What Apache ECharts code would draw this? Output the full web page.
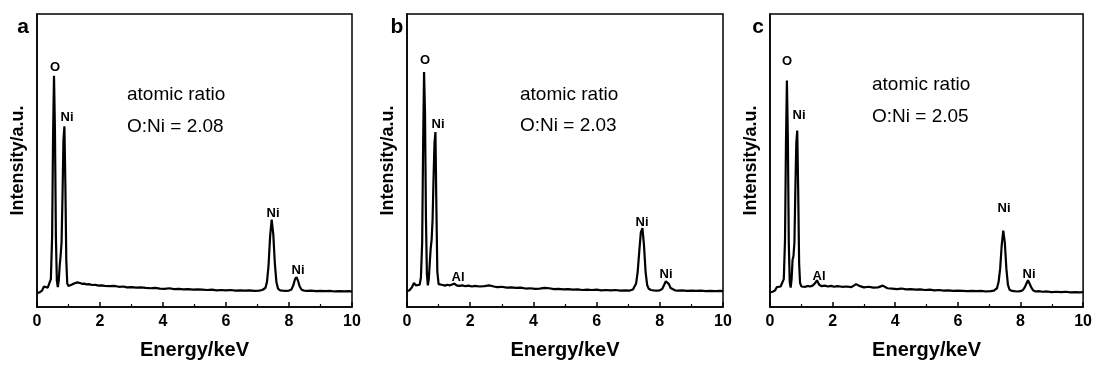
<!DOCTYPE html>
<html>
<head>
<meta charset="utf-8">
<title>EDS spectra</title>
<script src="https://cdn.jsdelivr.net/npm/echarts@6/dist/echarts.min.js"></script>
<style>
  html, body {margin: 0; padding: 0; background: #fff;}
  #main {width: 1095px; height: 365px;}
</style>
</head>
<body>
<div id="main"></div>
<script>
// energy grid, keV (finer around the peaks)
const energy = [
  0, 0.08, 0.16, 0.22, 0.28, 0.34, 0.4, 0.44, 0.48, 0.51,
  0.54, 0.57, 0.6, 0.63, 0.66, 0.69, 0.72, 0.75, 0.78, 0.81,
  0.84, 0.87, 0.9, 0.93, 0.96, 1.0, 1.06, 1.13, 1.2, 1.28,
  1.36, 1.43, 1.5, 1.57, 1.65, 1.75, 1.85, 1.95, 2.05, 2.15,
  2.3, 2.45, 2.6, 2.75, 2.85, 3.0, 3.15, 3.3, 3.45, 3.6,
  3.75, 3.9, 4.05, 4.2, 4.35, 4.5, 4.65, 4.8, 4.95, 5.1,
  5.25, 5.4, 5.55, 5.7, 5.85, 6.0, 6.15, 6.3, 6.45, 6.6,
  6.75, 6.9, 7.05, 7.15, 7.25, 7.3, 7.35, 7.4, 7.45, 7.5,
  7.55, 7.6, 7.65, 7.72, 7.8, 7.9, 8.0, 8.08, 8.14, 8.19,
  8.24, 8.29, 8.34, 8.4, 8.48, 8.58, 8.7, 8.85, 9.0, 9.15,
  9.3, 9.45, 9.6, 9.75, 9.9, 10.0,
]

// intensity (a.u.)
const specA = [
  4.8, 5.0, 5.6, 7.0, 7.6, 6.6, 7.0, 9.5, 24, 58,
  78.9, 60, 24, 9, 6.8, 9, 14, 17.5, 22, 38,
  57, 61.7, 42, 16, 8, 7.2, 7.4, 7.8, 8.1, 8.4,
  8.2, 7.9, 8.0, 7.7, 7.8, 7.5, 7.6, 7.3, 7.4, 7.2,
  7.1, 7.2, 6.9, 7.0, 6.7, 6.8, 6.6, 6.7, 6.5, 6.4,
  6.5, 6.3, 6.2, 6.4, 6.1, 6.2, 6.0, 6.1, 5.9, 6.0,
  5.9, 5.8, 5.9, 5.7, 5.8, 5.7, 5.8, 5.6, 5.7, 5.6,
  5.7, 5.5, 5.6, 5.8, 6.5, 8.5, 14, 24, 29.8, 25,
  15, 8.5, 6.3, 5.7, 5.6, 5.5, 5.6, 6.0, 7.5, 9.5,
  10.2, 8.8, 7.0, 5.9, 5.6, 5.5, 5.6, 5.4, 5.5, 5.4,
  5.5, 5.3, 5.4, 5.3, 5.4, 5.3,
]
const specB = [
  5.4, 5.7, 6.8, 8.2, 7.4, 6.9, 7.6, 10, 22, 55,
  80.2, 66, 30, 11, 7.4, 9.5, 15, 20, 23, 30,
  44, 56, 59.7, 34, 12, 7.8, 7.2, 7.5, 7.3, 7.6,
  7.4, 7.7, 8.0, 7.4, 7.2, 7.4, 7.1, 7.3, 7.0, 7.2,
  7.0, 7.1, 7.4, 7.0, 6.8, 6.9, 6.6, 6.7, 6.5, 6.6,
  6.3, 6.4, 6.2, 6.3, 6.5, 6.4, 6.1, 6.2, 6.0, 6.1,
  5.9, 6.0, 5.8, 5.9, 5.8, 5.9, 5.7, 5.8, 5.7, 5.8,
  5.6, 5.7, 5.6, 6.0, 8.0, 12, 19, 25.5, 26.9, 21,
  12, 7.5, 6.2, 5.8, 5.7, 5.6, 5.7, 6.2, 7.6, 8.8,
  9.1, 7.8, 6.5, 5.9, 5.7, 5.6, 5.7, 5.5, 5.6, 5.5,
  5.6, 5.4, 5.5, 5.4, 5.5, 5.4,
]
const specC = [
  5.0, 5.2, 5.6, 6.8, 7.4, 7.0, 7.2, 9.5, 23, 56,
  77.3, 58, 22, 8.5, 6.6, 9.5, 16, 17.4, 22, 40,
  56, 60.2, 40, 15, 8.2, 7.0, 7.3, 6.9, 7.2, 7.0,
  7.3, 8.0, 9.1, 7.6, 7.1, 7.3, 7.0, 7.2, 6.9, 7.1,
  6.9, 7.0, 6.8, 7.8, 7.2, 6.7, 6.9, 6.6, 6.7, 7.3,
  6.4, 6.3, 6.1, 6.3, 6.0, 6.1, 5.9, 6.0, 5.8, 5.9,
  5.7, 5.8, 5.6, 5.7, 5.5, 5.6, 5.5, 5.4, 5.5, 5.4,
  5.5, 5.3, 5.4, 5.6, 6.4, 8.5, 13, 21, 26.1, 22,
  13, 7.5, 5.9, 5.5, 5.4, 5.3, 5.4, 5.8, 6.8, 8.0,
  9.1, 8.5, 6.8, 5.7, 5.3, 5.4, 5.2, 5.3, 5.1, 5.2,
  5.1, 5.2, 5.0, 5.1, 5.0, 5.1,
]

const panels = ['a', 'b', 'c']
const ratios = ['O:Ni = 2.08', 'O:Ni = 2.03', 'O:Ni = 2.05']
const xTicks = ['0', '2', '4', '6', '8', '10']

const font = 'Liberation Sans, Arial, Helvetica, sans-serif'

// grid rects (px)
const grids = [
  {left: 37, top: 14, width: 315, height: 298},
  {left: 407, top: 14, width: 316, height: 298},
  {left: 770, top: 14, width: 314, height: 298},
]

const chart = echarts.init(document.getElementById('main'), null, {renderer: 'canvas'})

/** @param {number[]} ys */
const pairs = ys => energy.map((e, i) => [e, ys[i]])

/**
 * text helper
 * @param {string} t
 * @param {number} x
 * @param {number} y
 * @param {string} f css font
 * @param {string} [align]
 */
function txt(t, x, y, f, align = 'center') {
  return {
    type: 'text',
    x,
    y,
    style: {text: t, font: f, fill: '#000', align, verticalAlign: 'middle'},
  }
}

const bold13 = `bold 13px ${font}`
const reg19 = `19px ${font}`
const bold21 = `bold 21px ${font}`

const graphic = [
  // a
  txt(panels[0], 23, 27, bold21),
  txt('O', 55, 67, bold13),
  txt('Ni', 67, 117, bold13),
  txt('atomic ratio', 127, 95, reg19, 'left'),
  txt(ratios[0], 127, 127, reg19, 'left'),
  txt('Ni', 273, 213, bold13),
  txt('Ni', 298, 270, bold13),
  // b
  txt(panels[1], 397, 27, bold21),
  txt('O', 425, 60, bold13),
  txt('Ni', 438, 124, bold13),
  txt('atomic ratio', 520, 95, reg19, 'left'),
  txt(ratios[1], 520, 126, reg19, 'left'),
  txt('Al', 458, 277, bold13),
  txt('Ni', 642, 222, bold13),
  txt('Ni', 666, 274, bold13),
  // c
  txt(panels[2], 758, 27, bold21),
  txt('O', 787, 61, bold13),
  txt('Ni', 799, 115, bold13),
  txt('atomic ratio', 872, 85, reg19, 'left'),
  txt(ratios[2], 872, 117, reg19, 'left'),
  txt('Al', 819, 276, bold13),
  txt('Ni', 1004, 208, bold13),
  txt('Ni', 1029, 274, bold13),
]

const option = {
  animation: false,
  backgroundColor: '#fff',
  textStyle: {fontFamily: font},
  grid: grids.map(g => ({...g, show: true, borderColor: '#000', borderWidth: 1.5, backgroundColor: 'transparent'})),
  xAxis: grids.map((g, i) => ({
    type: 'value',
    gridIndex: i,
    min: 0,
    max: 10,
    interval: 2,
    name: 'Energy/keV',
    nameLocation: 'middle',
    nameGap: 33,
    nameTextStyle: {fontSize: 20, fontWeight: 'bold', color: '#000', fontFamily: font},
    axisLine: {show: true, lineStyle: {color: '#000', width: 1.5}},
    axisTick: {show: true, inside: true, length: 5, lineStyle: {color: '#000', width: 1.5}},
    minorTick: {show: true, splitNumber: 2, length: 3, lineStyle: {color: '#000', width: 1.2}},
    axisLabel: {
      margin: 7,
      fontSize: 16,
      fontWeight: 'bold',
      color: '#000',
      fontFamily: font,
      formatter: v => xTicks[Math.round(v / 2)] ?? '',
    },
    splitLine: {show: false},
  })),
  yAxis: grids.map((g, i) => ({
    type: 'value',
    gridIndex: i,
    min: 0,
    max: 100,
    name: 'Intensity/a.u.',
    nameLocation: 'middle',
    nameGap: 10,
    nameTextStyle: {fontSize: 18, fontWeight: 'bold', color: '#000', fontFamily: font},
    axisLine: {show: true, lineStyle: {color: '#000', width: 1.5}},
    axisTick: {show: false},
    axisLabel: {show: false},
    splitLine: {show: false},
  })),
  series: [specA, specB, specC].map((s, i) => ({
    type: 'line',
    xAxisIndex: i,
    yAxisIndex: i,
    data: pairs(s),
    showSymbol: false,
    lineStyle: {color: '#000', width: 2.2},
  })),
  graphic,
}

chart.setOption(option)
</script>
</body>
</html>
